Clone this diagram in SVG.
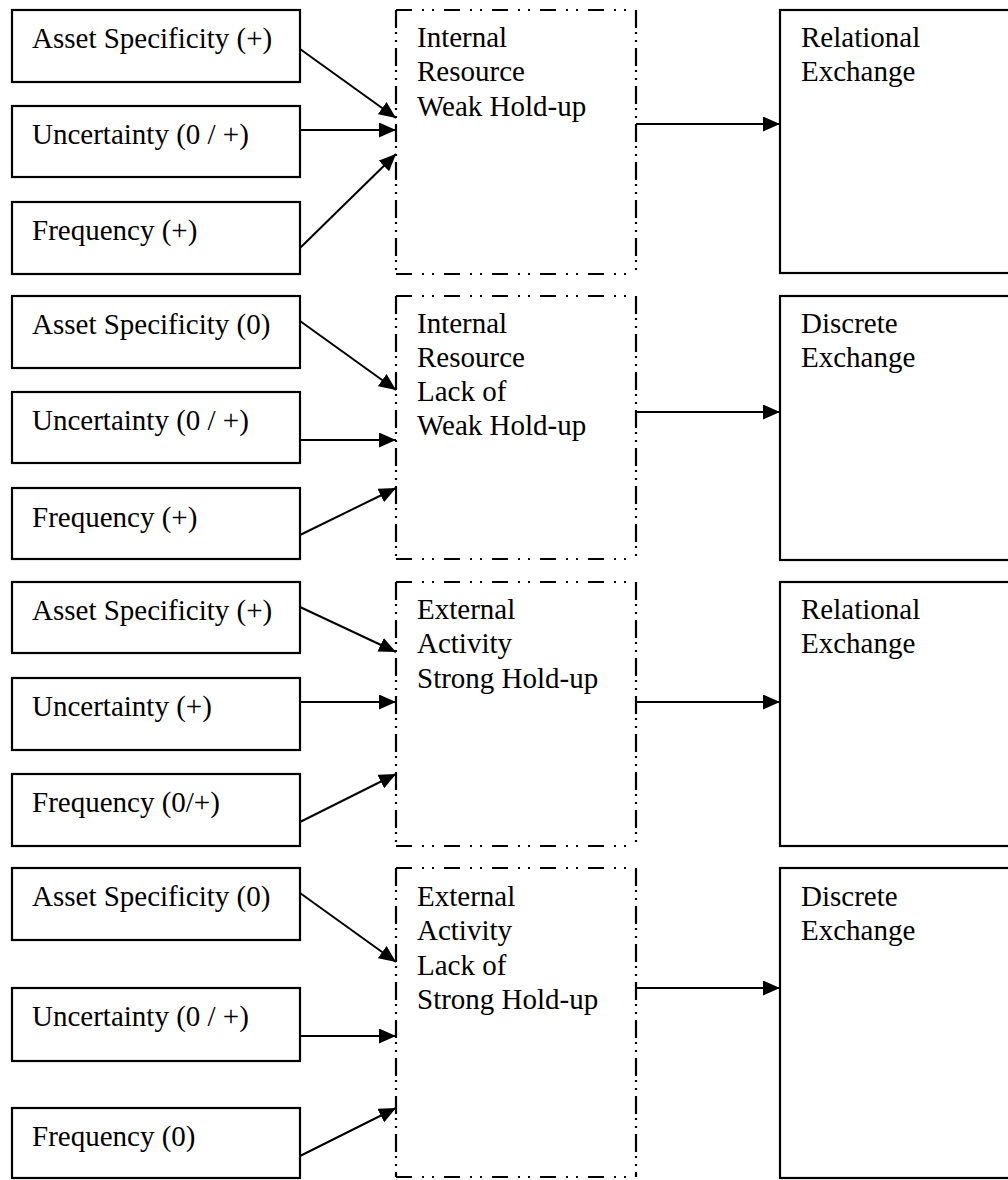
<svg xmlns="http://www.w3.org/2000/svg" width="1008" height="1180" viewBox="0 0 1008 1180">
  <style>
    .bg { fill: #ffffff; }
    .box { fill: #ffffff; stroke: #000000; stroke-width: 2.2; }
    .hz { fill: none; stroke: #000000; stroke-width: 2.2; stroke-dasharray: 16 10 2 8 2 10; }
    .vt { fill: none; stroke: #000000; stroke-width: 2.2; stroke-dasharray: 18 4 2 6 2 6; }
    .lbl { font-family: "Liberation Serif", "Times New Roman", serif; font-size: 29px; fill: #000000; }
    .conn { fill: none; stroke: #000000; stroke-width: 2; marker-end: url(#head); }
  </style>
  <defs>
    <marker id="head" markerUnits="userSpaceOnUse" markerWidth="17" markerHeight="15" refX="17" refY="7.5" orient="auto">
      <path d="M0,0 L17,7.5 L0,15 Z" fill="#000000"/>
    </marker>
  </defs>

  <rect class="bg" x="0" y="0" width="1008" height="1180"/>

  <!-- Group 1: internal resource, weak hold-up -->
  <g id="asset-1"><rect class="box" x="12" y="10" width="288" height="72"/><text class="lbl" x="32" y="48">Asset Specificity (+)</text></g>
  <g id="uncertainty-1"><rect class="box" x="12" y="106" width="288" height="71"/><text class="lbl" x="32" y="144">Uncertainty (0 / +)</text></g>
  <g id="frequency-1"><rect class="box" x="12" y="202" width="288" height="72"/><text class="lbl" x="32" y="240">Frequency (+)</text></g>
  <g id="holdup-1">
    <path class="hz" d="M396,10 H636 M396,274 H636"/>
    <path class="vt" d="M396,10 V274 M636,10 V274"/>
    <text class="lbl" x="417" y="47">Internal</text>
    <text class="lbl" x="417" y="81.3">Resource</text>
    <text class="lbl" x="417" y="115.6">Weak Hold-up</text>
  </g>
  <g id="exchange-1"><rect class="box" x="780" y="10" width="260" height="263"/><text class="lbl" x="801" y="47">Relational</text><text class="lbl" x="801" y="81.3">Exchange</text></g>

  <!-- Group 2: internal resource, lack of weak hold-up -->
  <g id="asset-2"><rect class="box" x="12" y="296" width="288" height="72"/><text class="lbl" x="32" y="334">Asset Specificity (0)</text></g>
  <g id="uncertainty-2"><rect class="box" x="12" y="392" width="288" height="71"/><text class="lbl" x="32" y="430">Uncertainty (0 / +)</text></g>
  <g id="frequency-2"><rect class="box" x="12" y="488" width="288" height="71"/><text class="lbl" x="32" y="527">Frequency (+)</text></g>
  <g id="holdup-2">
    <path class="hz" d="M396,296 H636 M396,559 H636"/>
    <path class="vt" d="M396,296 V559 M636,296 V559"/>
    <text class="lbl" x="417" y="333">Internal</text>
    <text class="lbl" x="417" y="367">Resource</text>
    <text class="lbl" x="417" y="401">Lack of</text>
    <text class="lbl" x="417" y="435">Weak Hold-up</text>
  </g>
  <g id="exchange-2"><rect class="box" x="780" y="296" width="260" height="264"/><text class="lbl" x="801" y="333">Discrete</text><text class="lbl" x="801" y="367.3">Exchange</text></g>

  <!-- Group 3: external activity, strong hold-up -->
  <g id="asset-3"><rect class="box" x="12" y="582" width="288" height="71"/><text class="lbl" x="32" y="620">Asset Specificity (+)</text></g>
  <g id="uncertainty-3"><rect class="box" x="12" y="678" width="288" height="72"/><text class="lbl" x="32" y="716">Uncertainty (+)</text></g>
  <g id="frequency-3"><rect class="box" x="12" y="774" width="288" height="72"/><text class="lbl" x="32" y="812">Frequency (0/+)</text></g>
  <g id="holdup-3">
    <path class="hz" d="M396,582 H636 M396,846 H636"/>
    <path class="vt" d="M396,582 V846 M636,582 V846"/>
    <text class="lbl" x="417" y="619">External</text>
    <text class="lbl" x="417" y="653.3">Activity</text>
    <text class="lbl" x="417" y="687.6">Strong Hold-up</text>
  </g>
  <g id="exchange-3"><rect class="box" x="780" y="582" width="260" height="264"/><text class="lbl" x="801" y="619">Relational</text><text class="lbl" x="801" y="653.3">Exchange</text></g>

  <!-- Group 4: external activity, lack of strong hold-up -->
  <g id="asset-4"><rect class="box" x="12" y="868" width="288" height="72"/><text class="lbl" x="32" y="906">Asset Specificity (0)</text></g>
  <g id="uncertainty-4"><rect class="box" x="12" y="988" width="288" height="73"/><text class="lbl" x="32" y="1026">Uncertainty (0 / +)</text></g>
  <g id="frequency-4"><rect class="box" x="12" y="1108" width="288" height="70"/><text class="lbl" x="32" y="1146">Frequency (0)</text></g>
  <g id="holdup-4">
    <path class="hz" d="M396,868 H636 M396,1177 H636"/>
    <path class="vt" d="M396,868 V1177 M636,868 V1177"/>
    <text class="lbl" x="417" y="906">External</text>
    <text class="lbl" x="417" y="940.3">Activity</text>
    <text class="lbl" x="417" y="974.6">Lack of</text>
    <text class="lbl" x="417" y="1008.9">Strong Hold-up</text>
  </g>
  <g id="exchange-4"><rect class="box" x="780" y="868" width="260" height="310"/><text class="lbl" x="801" y="906">Discrete</text><text class="lbl" x="801" y="940.3">Exchange</text></g>

  <!-- Connectors -->
  <g id="connectors">
    <line class="conn" x1="300" y1="49" x2="396" y2="118"/>
    <line class="conn" x1="300" y1="130" x2="396" y2="130"/>
    <line class="conn" x1="300" y1="248" x2="396" y2="154"/>
    <line class="conn" x1="636" y1="124" x2="780" y2="124"/>

    <line class="conn" x1="300" y1="321" x2="396" y2="390"/>
    <line class="conn" x1="300" y1="440" x2="396" y2="440"/>
    <line class="conn" x1="300" y1="535" x2="396" y2="488"/>
    <line class="conn" x1="636" y1="412" x2="780" y2="412"/>

    <line class="conn" x1="300" y1="607" x2="396" y2="652"/>
    <line class="conn" x1="300" y1="702" x2="396" y2="702"/>
    <line class="conn" x1="300" y1="822" x2="396" y2="774"/>
    <line class="conn" x1="636" y1="702" x2="780" y2="702"/>

    <line class="conn" x1="300" y1="893" x2="396" y2="962"/>
    <line class="conn" x1="300" y1="1036" x2="396" y2="1036"/>
    <line class="conn" x1="300" y1="1156" x2="396" y2="1108"/>
    <line class="conn" x1="636" y1="988" x2="780" y2="988"/>
  </g>
</svg>
